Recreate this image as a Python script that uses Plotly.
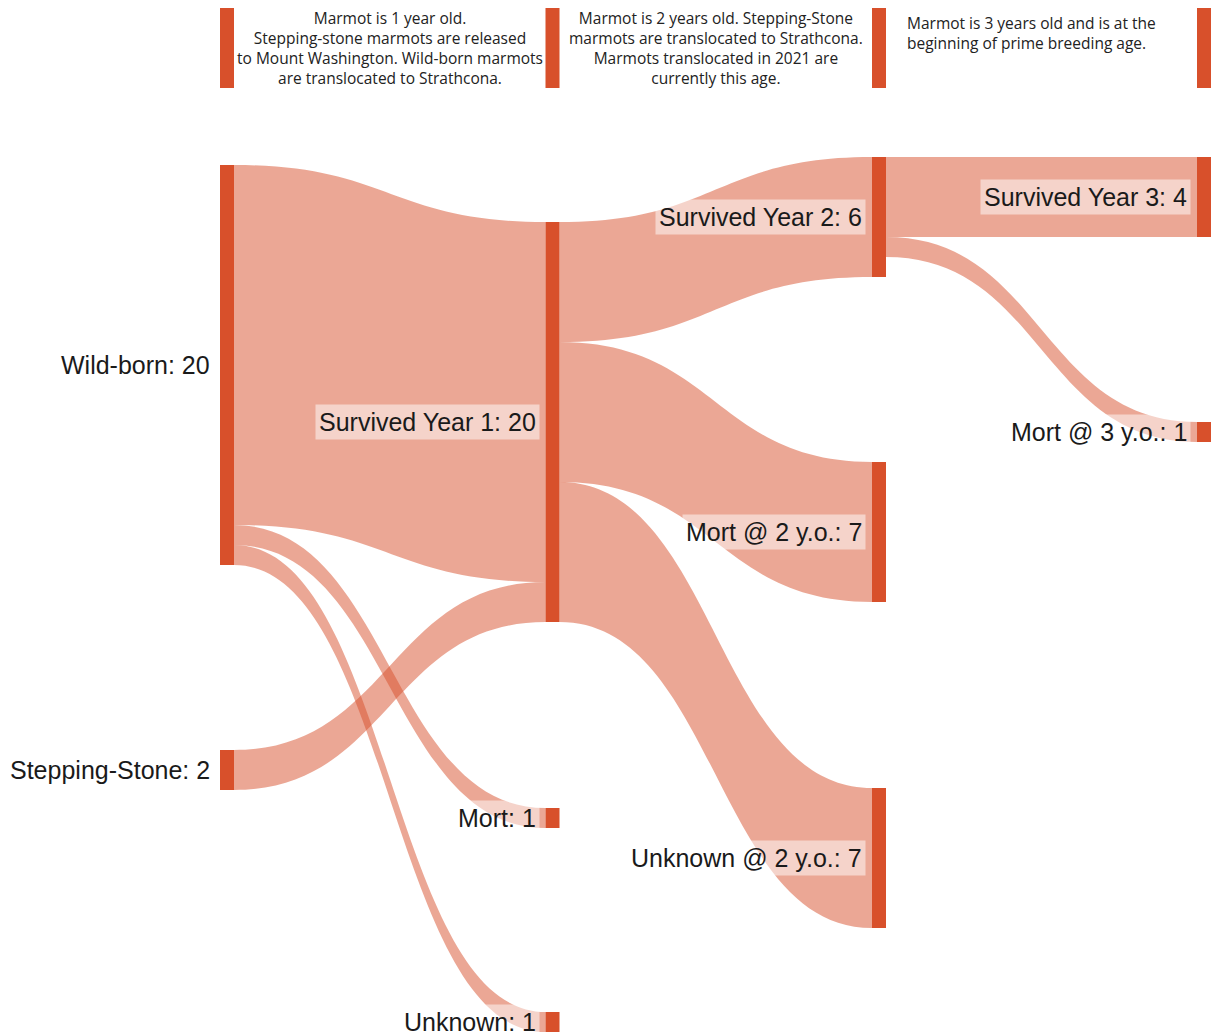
import plotly.graph_objects as go

# ---- data ----
node_names = ["", "", "", "",
              "Wild-born", "Stepping-Stone",
              "Survived Year 1", "Mort", "Unknown",
              "Survived Year 2", "Mort @ 2 y.o.", "Unknown @ 2 y.o.",
              "Survived Year 3", "Mort @ 3 y.o."]
link_source = [0, 1, 2, 4, 5, 4, 4, 6, 6, 6, 9, 9]
link_target = [1, 2, 3, 6, 6, 7, 8, 9, 10, 11, 12, 13]
link_value = [4, 4, 4, 18, 2, 1, 1, 6, 7, 7, 4, 1]
header_texts = [
    "Marmot is 1 year old.<br>Stepping-stone marmots are released<br>to Mount Washington. Wild-born marmots<br>are translocated to Strathcona.",
    "Marmot is 2 years old. Stepping-Stone<br>marmots are translocated to Strathcona.<br>Marmots translocated in 2021 are<br>currently this age.",
    "Marmot is 3 years old and is at the<br>beginning of prime breeding age.",
]

# ---- layout (positions / styles) ----
W, H = 1221, 1036
M_T, M_B, M_L, M_R = 8, 4, 0, 0
PW, PH = W - M_L - M_R, H - M_T - M_B
THICK = 14
col_px = [227, 552.5, 879, 1204]
node_col = [0, 1, 2, 3, 0, 0, 1, 1, 1, 2, 2, 2, 3, 3]
node_cy_px = [48, 48, 48, 48, 365, 770, 422, 818, 1022, 217, 532, 858, 197, 432]
node_x = [col_px[c] / PW for c in node_col]
node_y = [(cy - M_T) / PH for cy in node_cy_px]

NODE_COLOR = "#D8502B"
LINK_COLOR = "rgba(216,80,43,0.5)"
link_colors = ["rgba(0,0,0,0)" if s < 4 else LINK_COLOR for s in link_source]

# node totals from links
tot_in = [0] * len(node_names)
tot_out = [0] * len(node_names)
for s, t, v in zip(link_source, link_target, link_value):
    tot_out[s] += v
    tot_in[t] += v
node_total = [max(a, b) for a, b in zip(tot_in, tot_out)]

fig = go.Figure(go.Sankey(
    arrangement="fixed",
    node=dict(
        label=["" for _ in node_names],
        x=node_x, y=node_y,
        pad=168, thickness=THICK,
        color=NODE_COLOR,
        line=dict(width=0),
        align="left",
        hoverinfo="skip",
    ),
    link=dict(source=link_source, target=link_target, value=link_value,
              color=link_colors, hoverinfo="skip"),
))

annotations = []
for i, name in enumerate(node_names):
    if not name:
        continue
    annotations.append(dict(
        xref="paper", yref="paper",
        x=node_x[i] - (THICK / 2) / PW, y=1 - node_y[i],
        xanchor="right", yanchor="middle", xshift=-6,
        text=f"{name}: {node_total[i]}", showarrow=False,
        font=dict(family="Arial, Liberation Sans", size=25, color="#1a1a1a"),
        bgcolor="rgba(255,255,255,0.5)", borderpad=3,
    ))

hdr_font = dict(family="Open Sans, Lato", size=15.5, color="#222222")
annotations.append(dict(xref="paper", yref="paper",
                        x=(col_px[0] + col_px[1]) / 2 / PW, y=1, yshift=3,
                        xanchor="center", yanchor="top", align="center",
                        text=header_texts[0], showarrow=False, font=hdr_font))
annotations.append(dict(xref="paper", yref="paper",
                        x=(col_px[1] + col_px[2]) / 2 / PW, y=1, yshift=3,
                        xanchor="center", yanchor="top", align="center",
                        text=header_texts[1], showarrow=False, font=hdr_font))
annotations.append(dict(xref="paper", yref="paper",
                        x=col_px[2] / PW, y=1, yshift=-2, xshift=26,
                        xanchor="left", yanchor="top", align="left",
                        text=header_texts[2], showarrow=False, font=hdr_font))

fig.update_layout(
    width=W, height=H,
    margin=dict(t=M_T, b=M_B, l=M_L, r=M_R),
    paper_bgcolor="white", plot_bgcolor="white",
    annotations=annotations,
)
fig.write_html("out.html", config={"displayModeBar": False},
               post_script="document.body.style.margin='0';document.body.style.overflow='hidden';")
